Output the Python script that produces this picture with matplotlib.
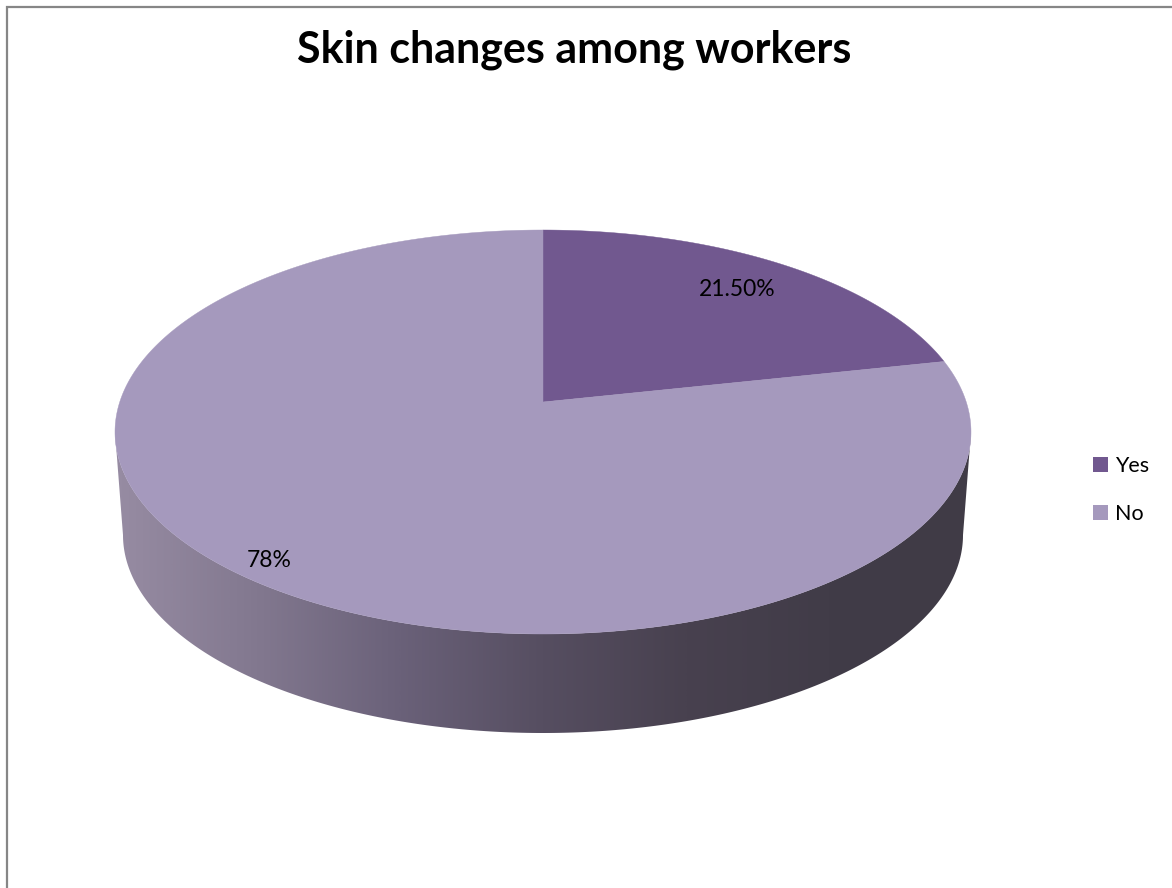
import matplotlib
matplotlib.use('Agg')
import matplotlib.pyplot as plt
import numpy as np
from matplotlib.patches import Polygon, Patch
from matplotlib.colors import LinearSegmentedColormap

plt.rcParams['font.family'] = ['Lato', 'DejaVu Sans']

# data
labels = ['Yes', 'No']
values = [21.5, 78]
value_text = ['21.50%', '78%']
title = 'Skin changes among workers'

top_colors = ['#71588F', '#A599BD']
side_stops = ['#978CA3', '#82788F', '#6A6179', '#564E61', '#48414F', '#413C48', '#403B46']

# pie geometry in pixels
cx, cy, ra, rb = 543, 432, 428, 202
bx, by, ba, bb = 543, 535, 420, 198
persp = 0.1485
label_r = [0.80, 0.92]


def proj(t, cx, cy, a, b, r=1.0):
    x = r * np.cos(t)
    y = r * np.sin(t)
    d = 1 + persp * y
    xp = x * np.sqrt(1 - persp**2) / d
    yp = (y + persp) / d
    return cx + a * xp, cy - b * yp


fig = plt.figure(figsize=(11.72, 8.88), dpi=100)
ax = fig.add_axes([0, 0, 1, 1])
ax.set_xlim(0, 1172)
ax.set_ylim(888, 0)
ax.axis('off')

# chart border
ax.plot([7, 7, 1180], [900, 7, 7], color='#868686', lw=1.6, solid_joinstyle='miter')

# side of the cylinder
dlt = np.arcsin(persp)
ts = np.linspace(np.pi + dlt, 2 * np.pi - dlt, 300)
tx, ty = proj(ts, cx, cy, ra, rb)
bxs, bys = proj(ts[::-1], bx, by, ba, bb)
side = Polygon(np.column_stack([np.r_[tx, bxs], np.r_[ty, bys]]), closed=True,
               facecolor='none', edgecolor='none')
ax.add_patch(side)
cmap = LinearSegmentedColormap.from_list('side', side_stops)
grad = np.linspace(0, 1, 512).reshape(1, -1)
im = ax.imshow(grad, cmap=cmap, extent=[cx - ra - 2, cx + ra + 2, 760, 410],
               aspect='auto', interpolation='bilinear', zorder=1)
im.set_clip_path(side)

# top face wedges
fracs = np.array(values) / np.sum(values)
start = 90.0
apex = proj(0.0, cx, cy, ra, rb, r=0.0)
for i, f in enumerate(fracs):
    end = start - 360 * f
    tt = np.radians(np.linspace(start, end, 400))
    px, py = proj(tt, cx, cy, ra, rb)
    pts = np.column_stack([np.r_[apex[0], px], np.r_[apex[1], py]])
    ax.add_patch(Polygon(pts, closed=True, facecolor=top_colors[i],
                         edgecolor=top_colors[i], lw=0.3, zorder=2))
    mid = np.radians((start + end) / 2)
    lx, ly = proj(mid, cx, cy, ra, rb, r=label_r[i])
    ax.text(lx, ly, value_text[i], ha='center', va='center', fontsize=16.5,
            color='black', zorder=3)
    start = end

ax.text(574, 50, title, ha='center', va='center', fontsize=31,
        fontweight='bold', color='black')

handles = [Patch(facecolor=c, edgecolor='none') for c in top_colors]
fig.legend(handles, labels, loc='center left', bbox_to_anchor=(1082 / 1172, 1 - 490 / 888),
           frameon=False, fontsize=15.5, handlelength=0.7, handleheight=0.7,
           handletextpad=0.35, labelspacing=1.3, borderpad=0)

fig.savefig('out.png', dpi=100)
